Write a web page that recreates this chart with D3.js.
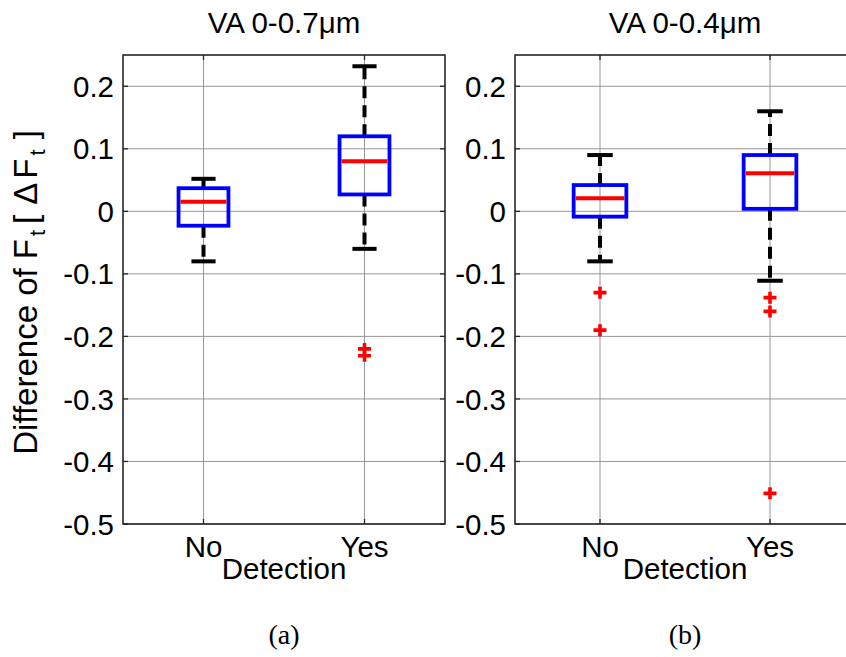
<!DOCTYPE html>
<html>
<head>
<meta charset="utf-8">
<script src="https://cdn.jsdelivr.net/npm/d3@7"></script>
<style>
  html, body { margin: 0; padding: 0; background: #fff; }
  svg { display: block; }
  text { font-family: "Liberation Sans", Arial, sans-serif; fill: #000; }
</style>
</head>
<body>
<svg id="chart" width="846" height="657"></svg>
<script>
// ---- Data ----
const categories = ["No", "Yes"];
const panelTitles = ["VA 0-0.7μm", "VA 0-0.4μm"];
const panelLabels = ["(a)", "(b)"];
const xAxisTitle = "Detection";
const yTicks = [0.2, 0.1, 0, -0.1, -0.2, -0.3, -0.4, -0.5];

// Panel (a)
const lowerWhiskerA = [-0.080, -0.060];
const q1A = [-0.023, 0.027];
const medianA = [0.0155, 0.080];
const q3A = [0.037, 0.120];
const upperWhiskerA = [0.052, 0.232];
const outliersA = [[], [-0.220, -0.231]];

// Panel (b)
const lowerWhiskerB = [-0.080, -0.111];
const q1B = [-0.0085, 0.004];
const medianB = [0.021, 0.061];
const q3B = [0.042, 0.090];
const upperWhiskerB = [0.090, 0.160];
const outliersB = [[-0.130, -0.190], [-0.138, -0.160, -0.451]];

function buildStats(lo, q1, med, q3, hi, outs) {
  return categories.map((c, i) => ({cat: c, pos: i + 1, lo: lo[i], q1: q1[i], med: med[i], q3: q3[i], hi: hi[i], outs: outs[i]}));
}
const panels = [
  {title: panelTitles[0], label: panelLabels[0], stats: buildStats(lowerWhiskerA, q1A, medianA, q3A, upperWhiskerA, outliersA), x0: 123, x1: 445},
  {title: panelTitles[1], label: panelLabels[1], stats: buildStats(lowerWhiskerB, q1B, medianB, q3B, upperWhiskerB, outliersB), x0: 515, x1: 855}
];

const svg = d3.select("#chart");
const axTop = 55, axBottom = 524;
const y = d3.scaleLinear().domain([-0.5, 0.25]).range([axBottom, axTop]);
const fmt = v => (Math.abs(v) < 1e-9 ? "0" : d3.format(".1f")(v).replace("−", "-"));
const FS = 29.5;

panels.forEach((p, pi) => {
  const x = d3.scaleLinear().domain([0.5, 2.5]).range([p.x0, p.x1]);
  const g = svg.append("g");
  const spacing = x(2) - x(1);
  const boxW = spacing * 0.31;
  const capW = spacing * 0.075;

  // grid
  g.selectAll(".gy").data(yTicks).join("line")
    .attr("x1", p.x0).attr("x2", p.x1)
    .attr("y1", d => y(d)).attr("y2", d => y(d))
    .attr("stroke", "#8c8c8c").attr("stroke-width", 0.9);
  g.selectAll(".gx").data(p.stats).join("line")
    .attr("x1", d => x(d.pos)).attr("x2", d => x(d.pos))
    .attr("y1", axTop).attr("y2", axBottom)
    .attr("stroke", "#8c8c8c").attr("stroke-width", 0.9);

  p.stats.forEach(s => {
    g.append("line").attr("x1", x(s.pos)).attr("x2", x(s.pos))
      .attr("y1", y(s.q3)).attr("y2", y(s.hi))
      .attr("stroke", "#000").attr("stroke-width", 4).attr("stroke-dasharray", "12,7");
    g.append("line").attr("x1", x(s.pos)).attr("x2", x(s.pos))
      .attr("y1", y(s.q1)).attr("y2", y(s.lo))
      .attr("stroke", "#000").attr("stroke-width", 4).attr("stroke-dasharray", "12,7");
    [s.lo, s.hi].forEach(v => {
      g.append("line").attr("x1", x(s.pos) - capW).attr("x2", x(s.pos) + capW)
        .attr("y1", y(v)).attr("y2", y(v))
        .attr("stroke", "#000").attr("stroke-width", 4);
    });
    g.append("rect").attr("x", x(s.pos) - boxW / 2).attr("width", boxW)
      .attr("y", y(s.q3)).attr("height", y(s.q1) - y(s.q3))
      .attr("fill", "none").attr("stroke", "#0000ff").attr("stroke-width", 3.8);
    g.append("line").attr("x1", x(s.pos) - boxW / 2 + 2).attr("x2", x(s.pos) + boxW / 2 - 2)
      .attr("y1", y(s.med)).attr("y2", y(s.med))
      .attr("stroke", "#ff0000").attr("stroke-width", 4);
    s.outs.forEach(o => {
      const cx = x(s.pos), cy = y(o);
      g.append("path").attr("d", `M${cx - 6.5},${cy}H${cx + 6.5}M${cx},${cy - 6}V${cy + 6}`)
        .attr("stroke", "#ff0000").attr("stroke-width", 3.6).attr("fill", "none");
    });
  });

  // ticks inside
  const tl = 5;
  yTicks.forEach(t => {
    g.append("line").attr("x1", p.x0).attr("x2", p.x0 + tl).attr("y1", y(t)).attr("y2", y(t)).attr("stroke", "#262626").attr("stroke-width", 1.3);
    g.append("line").attr("x1", p.x1).attr("x2", p.x1 - tl).attr("y1", y(t)).attr("y2", y(t)).attr("stroke", "#262626").attr("stroke-width", 1.3);
  });
  p.stats.forEach(s => {
    g.append("line").attr("x1", x(s.pos)).attr("x2", x(s.pos)).attr("y1", axTop).attr("y2", axTop + tl).attr("stroke", "#262626").attr("stroke-width", 1.3);
    g.append("line").attr("x1", x(s.pos)).attr("x2", x(s.pos)).attr("y1", axBottom).attr("y2", axBottom - tl).attr("stroke", "#262626").attr("stroke-width", 1.3);
  });

  // frame
  g.append("rect").attr("x", p.x0).attr("y", axTop).attr("width", p.x1 - p.x0).attr("height", axBottom - axTop)
    .attr("fill", "none").attr("stroke", "#262626").attr("stroke-width", 1.6);

  // y tick labels
  g.selectAll(".yl").data(yTicks).join("text")
    .attr("x", p.x0 - 9).attr("y", d => y(d))
    .attr("dy", "0.36em").attr("text-anchor", "end")
    .attr("font-size", FS).text(d => fmt(d));

  // x tick labels
  g.selectAll(".xl").data(p.stats).join("text")
    .attr("x", d => x(d.pos)).attr("y", 557)
    .attr("text-anchor", "middle").attr("font-size", FS).text(d => d.cat);

  const mid = (x(0.5) + x(2.5)) / 2;
  g.append("text").attr("x", mid).attr("y", 579).attr("text-anchor", "middle").attr("font-size", FS).text(xAxisTitle);
  g.append("text").attr("x", mid).attr("y", 33).attr("text-anchor", "middle").attr("font-size", FS).text(p.title);
  g.append("text").attr("x", mid).attr("y", 644).attr("text-anchor", "middle")
    .attr("font-size", 28).style("font-family", "'Liberation Serif', 'Times New Roman', serif").text(p.label);
});

// y axis label
const yl = svg.append("text")
  .attr("transform", `translate(37, ${(axTop + axBottom) / 2 + 3}) rotate(-90)`)
  .attr("text-anchor", "middle").attr("font-size", 33);
yl.append("tspan").text("Difference of F");
yl.append("tspan").attr("font-size", 22).attr("dy", 8).attr("dx", 3).text("t");
yl.append("tspan").attr("dy", -8).attr("dx", 6).text("[");
yl.append("tspan").attr("dx", 10).text("Δ");
yl.append("tspan").attr("dx", 4).text("F");
yl.append("tspan").attr("font-size", 22).attr("dy", 8).attr("dx", 3).text("t");
yl.append("tspan").attr("dy", -8).attr("dx", 10).text("]");
</script>
</body>
</html>
